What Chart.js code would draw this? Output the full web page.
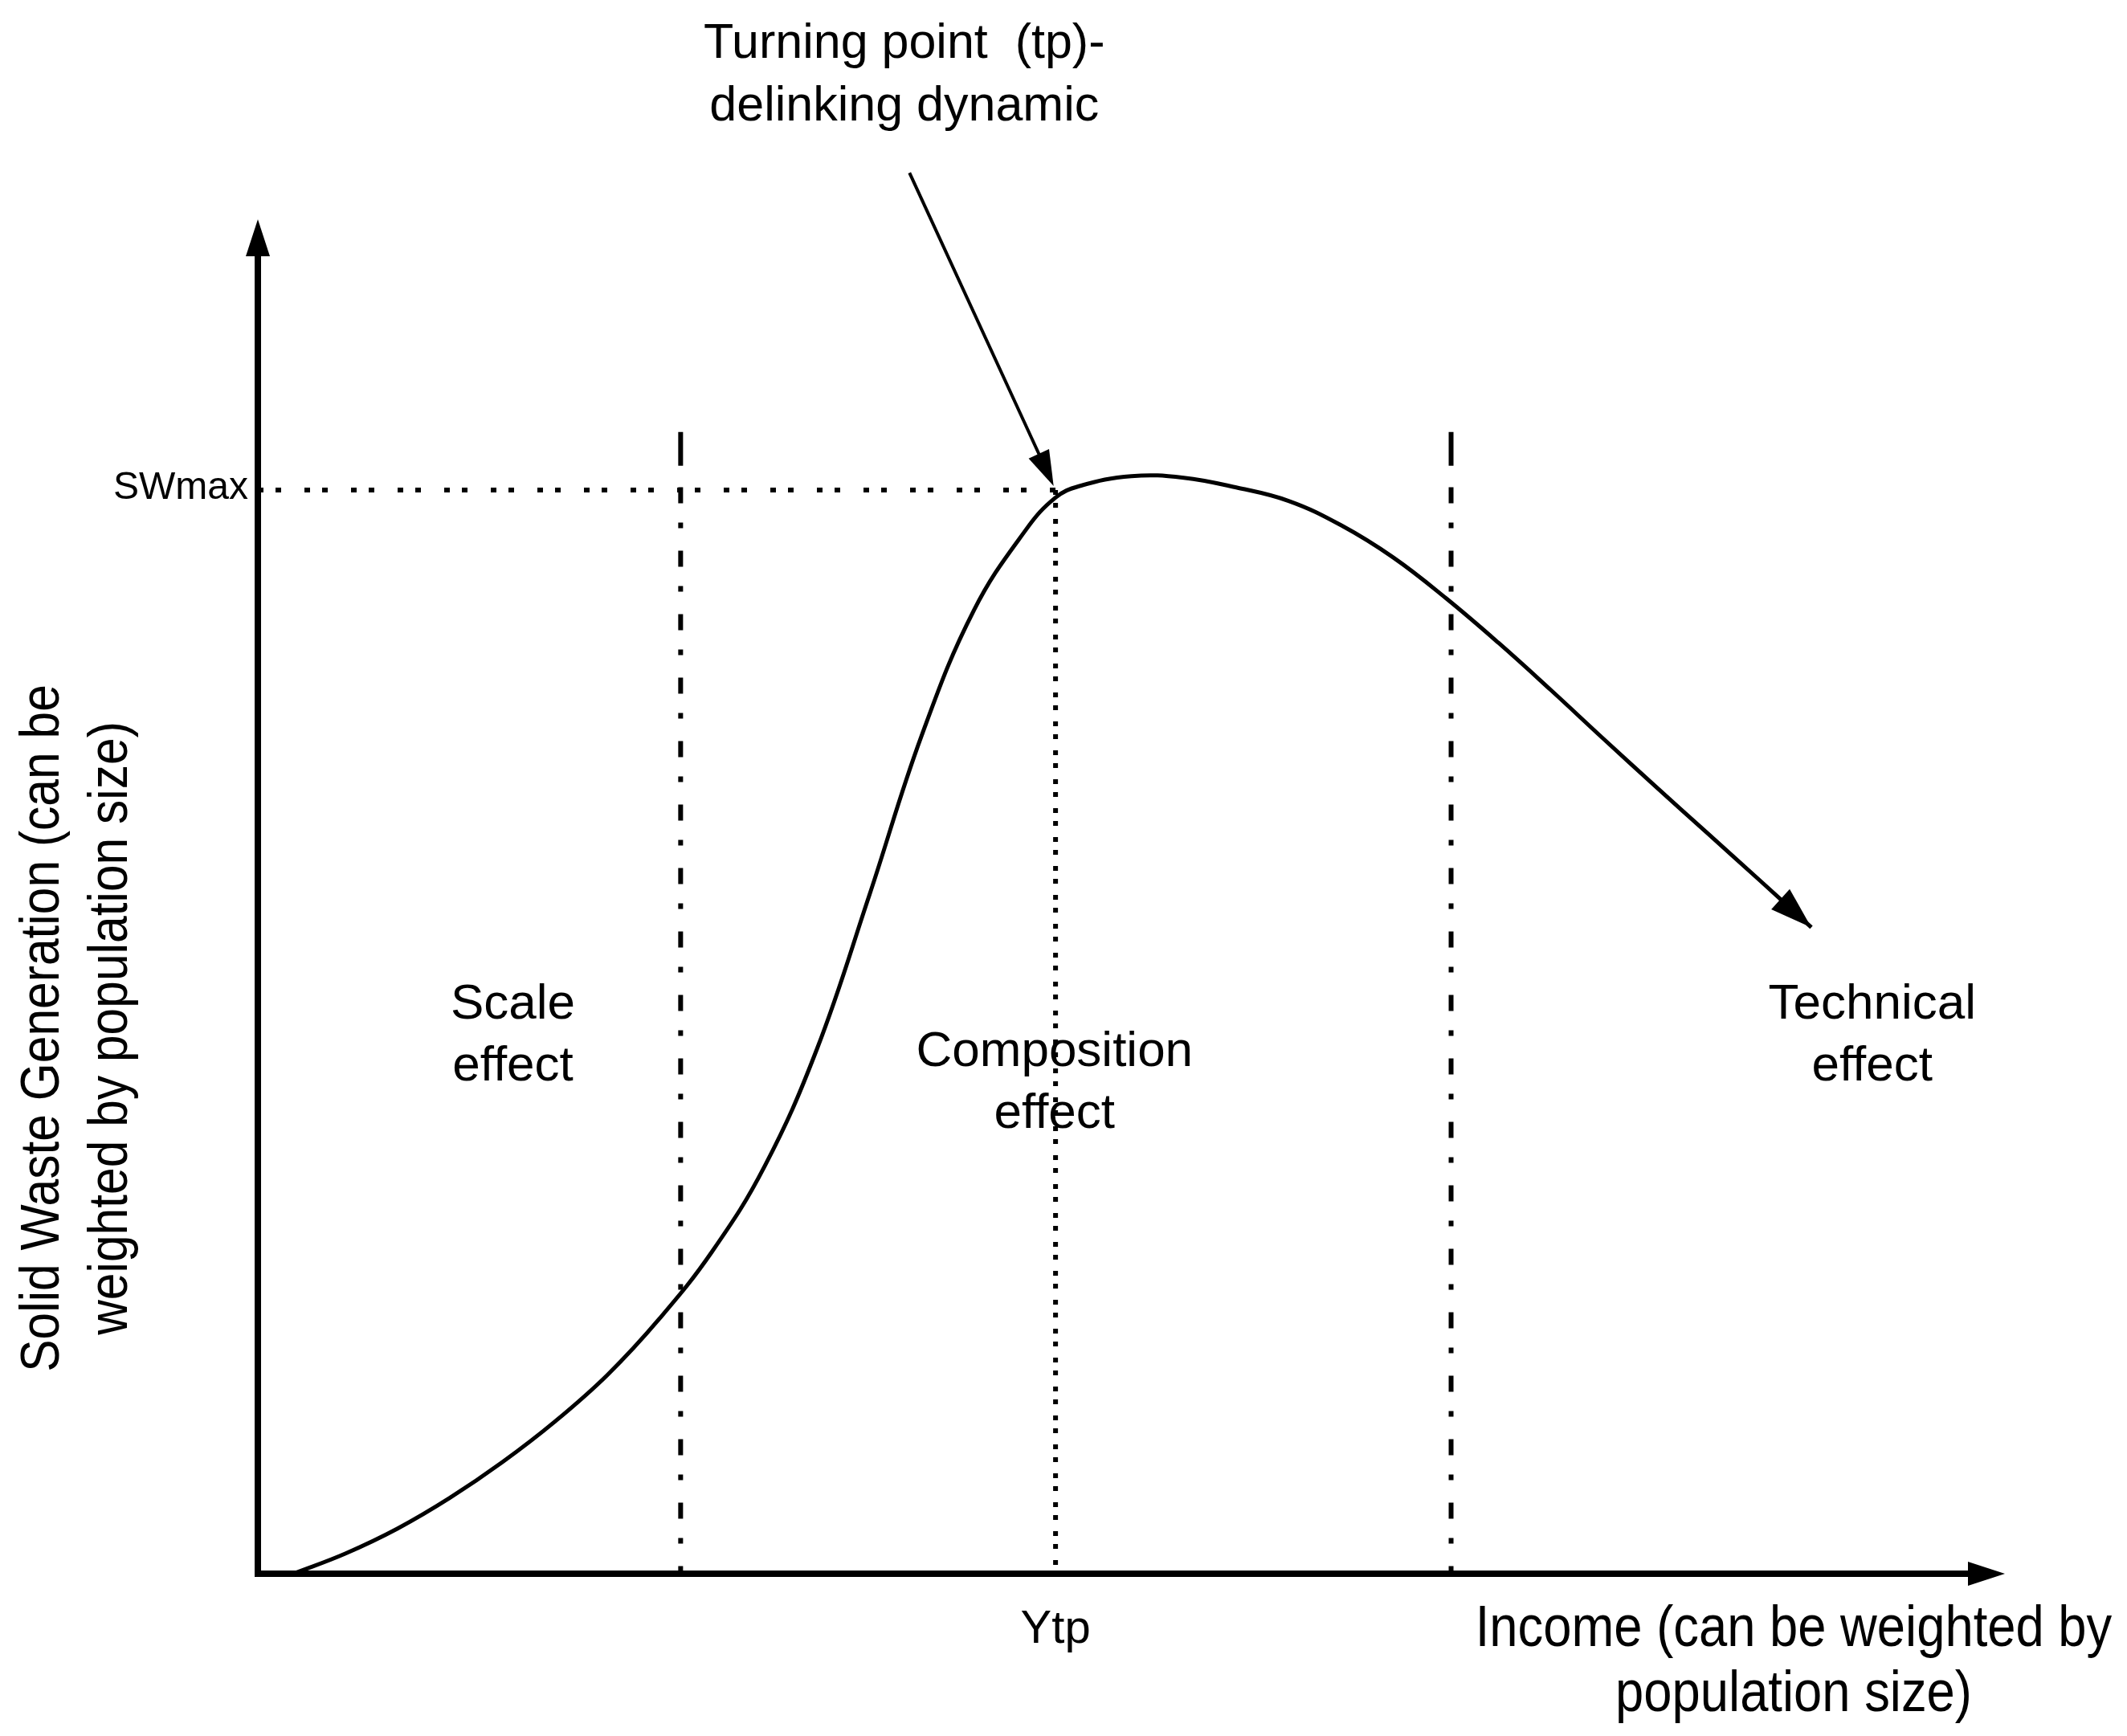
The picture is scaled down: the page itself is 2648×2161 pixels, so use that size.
<!DOCTYPE html>
<html><head><meta charset="utf-8">
<script src="https://cdn.jsdelivr.net/npm/chart.js@4.4.1/dist/chart.umd.min.js"></script>
<style>html,body{margin:0;padding:0;background:#fff}</style>
</head><body>
<canvas id="c" width="2648" height="2161" style="width:2648px;height:2161px;display:block"></canvas>
<script>
// ---- data (axis units 0..100) ----
const incomeX = [2.02, 5, 8, 11, 14, 17, 20, 23, 26, 29, 32, 35, 38, 41, 44, 45.66, 47, 50, 53, 56, 59, 62, 65, 68, 71, 74, 77, 80, 83, 86, 88.92];
const wasteY  = [0.00, 1.49, 3.35, 5.63, 8.27, 11.27, 14.72, 18.92, 23.87, 30.17, 38.87, 50.27, 62.12, 71.42, 77.42, 79.74, 80.58, 81.33, 81.21, 80.49, 79.49, 77.69, 75.29, 72.29, 68.99, 65.49, 61.89, 58.34, 54.84, 51.34, 47.89];
const swMax = 80.3;            // SWmax level
const yTp = 45.66;             // income at turning point
const effectBounds = [24.2, 68.3];
const boundTop = 84.6;
const boundLeadEnd = 82.1;
const tpArrowX = [37.3, 45.55];
const tpArrowY = [103.8, 80.6];
const regionNames = [["Scale", "effect"], ["Composition", "effect"], ["Technical", "effect"]];
const regionCenters = [14.6, 45.6, 92.4];
const tpNote = ["Turning point  (tp)-", "delinking dynamic"];
const yTitle = ["Solid Waste Generation (can be", "weighted by population size)"];
const xTitle = ["Income (can be weighted by", "population size)"];
const swLabel = "SWmax";
const tpLabel = "Ytp";

const pts = incomeX.map((x, i) => ({x, y: wasteY[i]}));
const dottedH = [7, 15, 7, 29];
const dottedV = [6, 10, 6, 14];
const dashDot = [20, 24, 7, 28];
const FONT = "'Liberation Sans', Arial, sans-serif";

function arrowHead(ctx, x1, y1, x2, y2, len, half) {
  const a = Math.atan2(y2 - y1, x2 - x1);
  ctx.beginPath();
  ctx.moveTo(x2, y2);
  ctx.lineTo(x2 - len * Math.cos(a) + half * Math.sin(a), y2 - len * Math.sin(a) - half * Math.cos(a));
  ctx.lineTo(x2 - len * Math.cos(a) - half * Math.sin(a), y2 - len * Math.sin(a) + half * Math.cos(a));
  ctx.closePath();
  ctx.fill();
}
function condensed(ctx, text, x, y, sx, rot) {
  ctx.save();
  ctx.translate(x, y);
  if (rot) ctx.rotate(rot);
  ctx.scale(sx, 1);
  ctx.fillText(text, 0, 0);
  ctx.restore();
}

const decor = {
  id: 'decor',
  afterDatasetsDraw(chart) {
    const ctx = chart.ctx, xs = chart.scales.x, ys = chart.scales.y;
    const X = v => xs.getPixelForValue(v), Y = v => ys.getPixelForValue(v);
    const L = X(0), B = Y(0), R = X(100), T = Y(100);
    ctx.save();
    ctx.fillStyle = '#000'; ctx.strokeStyle = '#000';
    // axes
    ctx.lineWidth = 8; ctx.lineCap = 'butt';
    ctx.beginPath(); ctx.moveTo(L, B + 4); ctx.lineTo(L, T + 36); ctx.stroke();
    ctx.beginPath(); ctx.moveTo(L - 4, B); ctx.lineTo(R - 40, B); ctx.stroke();
    arrowHead(ctx, L, B, L, T - 6, 46, 15);
    arrowHead(ctx, L, B, R, B, 46, 15);
    // curve end arrow
    const n = pts.length;
    arrowHead(ctx, X(pts[n - 2].x), Y(pts[n - 2].y), X(pts[n - 1].x), Y(pts[n - 1].y), 52, 17);
    // turning point arrow
    const ax1 = X(tpArrowX[0]), ay1 = Y(tpArrowY[0]), ax2 = X(tpArrowX[1]), ay2 = Y(tpArrowY[1]);
    const a = Math.atan2(ay2 - ay1, ax2 - ax1);
    ctx.lineWidth = 4;
    ctx.beginPath(); ctx.moveTo(ax1, ay1); ctx.lineTo(ax2 - 34 * Math.cos(a), ay2 - 34 * Math.sin(a)); ctx.stroke();
    arrowHead(ctx, ax1, ay1, ax2, ay2, 44, 14);
    // texts
    ctx.textAlign = 'center'; ctx.textBaseline = 'middle';
    ctx.font = '61px ' + FONT;
    tpNote.forEach((t, i) => ctx.fillText(t, X(37.0), 55 + i * 78));
    ctx.font = '62px ' + FONT;
    regionNames.forEach((lines, k) => {
      const cy = k === 1 ? 1348 : 1289;
      lines.forEach((t, i) => ctx.fillText(t, X(regionCenters[k]), cy - 38 + i * 77));
    });
    ctx.font = '58px ' + FONT;
    ctx.fillText(tpLabel, X(yTp), B + 70);
    ctx.textAlign = 'right';
    ctx.font = '48px ' + FONT;
    ctx.fillText(swLabel, L - 12, Y(swMax) - 2);
    // axis titles (condensed)
    ctx.textAlign = 'center';
    ctx.font = '72px ' + FONT;
    xTitle.forEach((t, i) => condensed(ctx, t, 2233, B + 70 + i * 81, 0.88, 0));
    ctx.textBaseline = 'alphabetic';
    ctx.font = '68px ' + FONT;
    yTitle.forEach((t, i) => condensed(ctx, t, 73 + i * 85, 1280, 0.89, -Math.PI / 2));
    ctx.restore();
  }
};

const refLine = (data, dash, w) => ({data, showLine: true, borderColor: '#000', borderWidth: w, borderDash: dash, pointRadius: 0, clip: false, borderCapStyle: 'butt'});

new Chart(document.getElementById('c'), {
  type: 'scatter',
  data: {
    datasets: [
      {data: pts, showLine: true, borderColor: '#000', borderWidth: 5, pointRadius: 0, tension: 0.4, clip: false, borderJoinStyle: 'round'},
      refLine([{x: 0, y: swMax}, {x: yTp, y: swMax}], dottedH, 6),
      refLine([{x: yTp, y: swMax}, {x: yTp, y: 0}], dottedV, 6),
      refLine([{x: effectBounds[0], y: boundTop}, {x: effectBounds[0], y: boundLeadEnd}], [], 6),
      refLine([{x: effectBounds[1], y: boundTop}, {x: effectBounds[1], y: boundLeadEnd}], [], 6),
      refLine([{x: effectBounds[0], y: boundLeadEnd - 1.6}, {x: effectBounds[0], y: 0}], dashDot, 6),
      refLine([{x: effectBounds[1], y: boundLeadEnd - 1.6}, {x: effectBounds[1], y: 0}], dashDot, 6)
    ]
  },
  options: {
    responsive: false, animation: false, devicePixelRatio: 1,
    layout: {padding: {left: 321, right: 152, top: 279, bottom: 202}},
    plugins: {legend: {display: false}, tooltip: {enabled: false}},
    scales: {
      x: {type: 'linear', min: 0, max: 100, display: false},
      y: {type: 'linear', min: 0, max: 100, display: false}
    }
  },
  plugins: [decor]
});
</script>
</body></html>
